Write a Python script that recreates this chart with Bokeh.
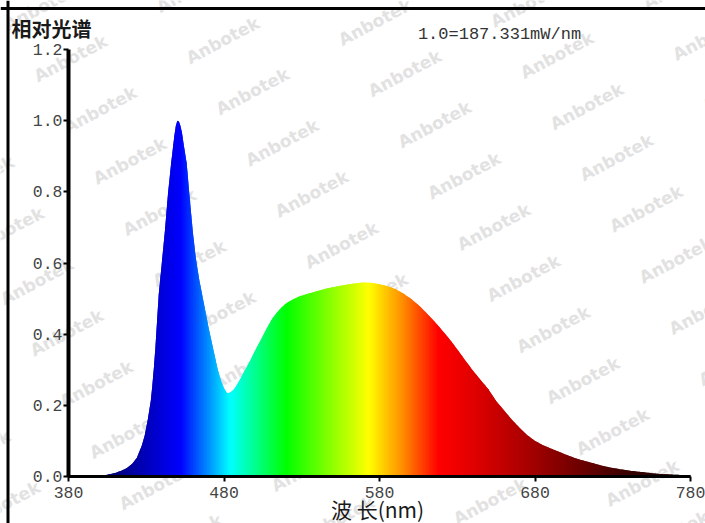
import numpy as np
from bokeh.plotting import figure
from bokeh.models import Label, FixedTicker, PrintfTickFormatter, Range1d, Span
from bokeh.embed import file_html
from bokeh.resources import INLINE

# ---------------- data ----------------
wavelength = [380, 390, 400, 405, 410, 414, 418, 421, 424, 427, 429, 431, 433, 434, 435,
              436, 437, 438, 440, 442, 444, 446, 448, 449, 450, 451, 452, 453, 454, 456,
              458, 460, 462, 464, 466, 468, 470, 472, 474, 476, 478, 480, 482, 484, 486,
              488, 490, 493, 496, 499, 502, 505, 508, 511, 514, 517, 520, 524, 528, 532,
              536, 540, 545, 550, 555, 560, 565, 570, 575, 580, 585, 590, 595, 600, 605,
              610, 615, 620, 625, 630, 635, 640, 645, 650, 655, 660, 665, 670, 675, 680,
              685, 690, 695, 700, 705, 710, 715, 720, 725, 730, 735, 740, 745, 750, 755,
              760, 765, 770, 775, 780]
relative = [0.000, 0.001, 0.002, 0.005, 0.010, 0.016, 0.025, 0.036, 0.053, 0.085, 0.115, 0.160, 0.215, 0.260, 0.310,
            0.370, 0.440, 0.510, 0.600, 0.690, 0.795, 0.880, 0.955, 0.985, 1.000, 0.998, 0.985, 0.965, 0.935, 0.880,
            0.780, 0.685, 0.610, 0.555, 0.510, 0.465, 0.420, 0.380, 0.340, 0.300, 0.270, 0.248, 0.234, 0.236, 0.243,
            0.255, 0.270, 0.295, 0.318, 0.345, 0.370, 0.395, 0.420, 0.443, 0.460, 0.475, 0.486, 0.497, 0.505, 0.511,
            0.516, 0.521, 0.527, 0.532, 0.536, 0.540, 0.543, 0.545, 0.544, 0.540, 0.535, 0.527, 0.515, 0.500, 0.482,
            0.460, 0.437, 0.412, 0.386, 0.357, 0.327, 0.298, 0.271, 0.245, 0.212, 0.186, 0.160, 0.137, 0.116, 0.100,
            0.088, 0.079, 0.070, 0.061, 0.053, 0.046, 0.040, 0.034, 0.028, 0.024, 0.020, 0.017, 0.014, 0.012, 0.009,
            0.007, 0.006, 0.005, 0.004, 0.003]

x_ticks = [380, 480, 580, 680, 780]
y_ticks = [0.0, 0.2, 0.4, 0.6, 0.8, 1.0, 1.2]
x_bounds = (380, 780)
y_bounds = (0.0, 1.2)
title_text = "相对光谱"
ref_text = "1.0=187.331mW/nm"
xlabel_text = "波 长(nm)"
watermark_text = "Anbotek"

# ---------------- style: wavelength colour stops ----------------
stop_wl = [380, 405, 452, 484, 520, 573, 595, 618, 640, 680, 735, 780]
stop_rgb = [(0, 0, 70), (0, 0, 110), (0, 0, 255), (0, 255, 255), (0, 255, 0), (255, 255, 0),
            (255, 140, 0), (255, 0, 0), (225, 0, 0), (160, 0, 0), (64, 0, 0), (12, 0, 0)]


def wl_color(w):
    for k in range(len(stop_wl) - 1):
        if stop_wl[k] <= w <= stop_wl[k + 1]:
            t = (w - stop_wl[k]) / (stop_wl[k + 1] - stop_wl[k])
            c = [round(a + (b - a) * t) for a, b in zip(stop_rgb[k], stop_rgb[k + 1])]
            return "#%02x%02x%02x" % tuple(c)
    return "#000000"


# ---------------- layout: the plot frame fills the whole canvas ----------------
W, H = 705, 523
FX0, FX1, FY0, FY1 = 68, 690, 476, 49   # pixel positions of x_bounds / y_bounds
kx = (FX1 - FX0) / (x_bounds[1] - x_bounds[0])
ky = (FY0 - FY1) / (y_bounds[1] - y_bounds[0])


def px2x(px):
    return x_bounds[0] + (px - FX0) / kx


def py2y(py):
    return y_bounds[0] + (FY0 - py) / ky


p = figure(width=W, height=H, output_backend="svg", toolbar_location=None, title=None,
           x_range=Range1d(px2x(0), px2x(W)), y_range=Range1d(py2y(H), py2y(0)),
           min_border=0, min_border_left=0, min_border_right=0, min_border_top=0, min_border_bottom=0)
p.outline_line_color = None
p.grid.visible = False
p.background_fill_color = "white"
p.border_fill_color = "white"

# ---------------- watermarks (underneath everything) ----------------
for i in range(-16, 16):
    for j in range(-6, 7):
        cx = 70 + 29.7 * i + 182 * j
        cy = 58 + 51.2 * i + 33 * j
        if -50 < cx < W + 50 and -25 < cy < H + 25:
            p.add_layout(Label(x=px2x(cx), y=py2y(cy), text=watermark_text, angle=28, angle_units="deg",
                               text_font="DejaVu Sans", text_font_style="bold", text_font_size="17px",
                               text_color="#e2e2e2", text_align="center", text_baseline="middle",
                               level="underlay"))

# ---------------- spectrum fill, coloured by wavelength ----------------
# the area under the straight segments joining the read points is cut into thin
# vertical strips; each strip overlaps the next one to hide seams.
def edge(x):
    return float(np.interp(x, wavelength, relative))


xs, ys, cols = [], [], []
ov = 1.0
for k in range(len(wavelength) - 1):
    x0, x1 = wavelength[k], wavelength[k + 1]
    n = max(1, int(round(x1 - x0)))
    for s in range(n):
        a = x0 + (x1 - x0) * s / n
        b = x0 + (x1 - x0) * (s + 1) / n
        c = min(b + ov, wavelength[-1])
        if c > b:
            xs.append([a, c, c, b, a])
            ys.append([0, 0, edge(c), edge(b), edge(a)])
        else:
            xs.append([a, b, b, a])
            ys.append([0, 0, edge(b), edge(a)])
        cols.append(wl_color((a + b) / 2))
p.patches(xs, ys, fill_color=cols, line_color=None)

# ---------------- axes (fixed inside the canvas) ----------------
for ax in (p.xaxis[0], p.yaxis[0]):
    ax.axis_line_color = "black"
    ax.major_tick_line_color = "black"
    ax.major_tick_line_width = 2
    ax.major_tick_out = 5
    ax.major_tick_in = 0
    ax.minor_tick_line_color = None
    ax.major_label_text_font = "Liberation Mono"
    ax.major_label_text_color = "#444444"
    ax.major_label_text_font_size = "16.5px"
p.xaxis.fixed_location = y_bounds[0]
p.yaxis.fixed_location = x_bounds[0]
p.xaxis.bounds = x_bounds
p.yaxis.bounds = y_bounds
p.yaxis.axis_line_width = 4
p.xaxis.axis_line_width = 3
p.xaxis.ticker = FixedTicker(ticks=x_ticks)
p.yaxis.ticker = FixedTicker(ticks=y_ticks)
p.yaxis.formatter = PrintfTickFormatter(format="%.1f")
p.xaxis.major_label_standoff = 5
p.yaxis.major_label_standoff = 1

# ---------------- outer frame lines (top and left) ----------------
p.add_layout(Span(location=py2y(8), dimension="width", line_color="black", line_width=3))
p.add_layout(Span(location=px2x(7.5), dimension="height", line_color="black", line_width=3))

# ---------------- texts ----------------
p.add_layout(Label(x=px2x(11), y=py2y(28), text=title_text, text_font="Noto Sans CJK SC",
                   text_font_size="20px", text_font_style="bold", text_color="#1a1a1a",
                   text_align="left", text_baseline="middle"))
p.add_layout(Label(x=px2x(499), y=py2y(34), text=ref_text, text_font="Liberation Mono",
                   text_font_size="17px", text_color="#333333",
                   text_align="center", text_baseline="middle"))
p.add_layout(Label(x=px2x(377), y=py2y(508), text=xlabel_text, text_font="Noto Sans CJK SC",
                   text_font_size="21px", text_color="#1a1a1a",
                   text_align="center", text_baseline="middle"))

open("out.html", "w").write(file_html(p, INLINE))
